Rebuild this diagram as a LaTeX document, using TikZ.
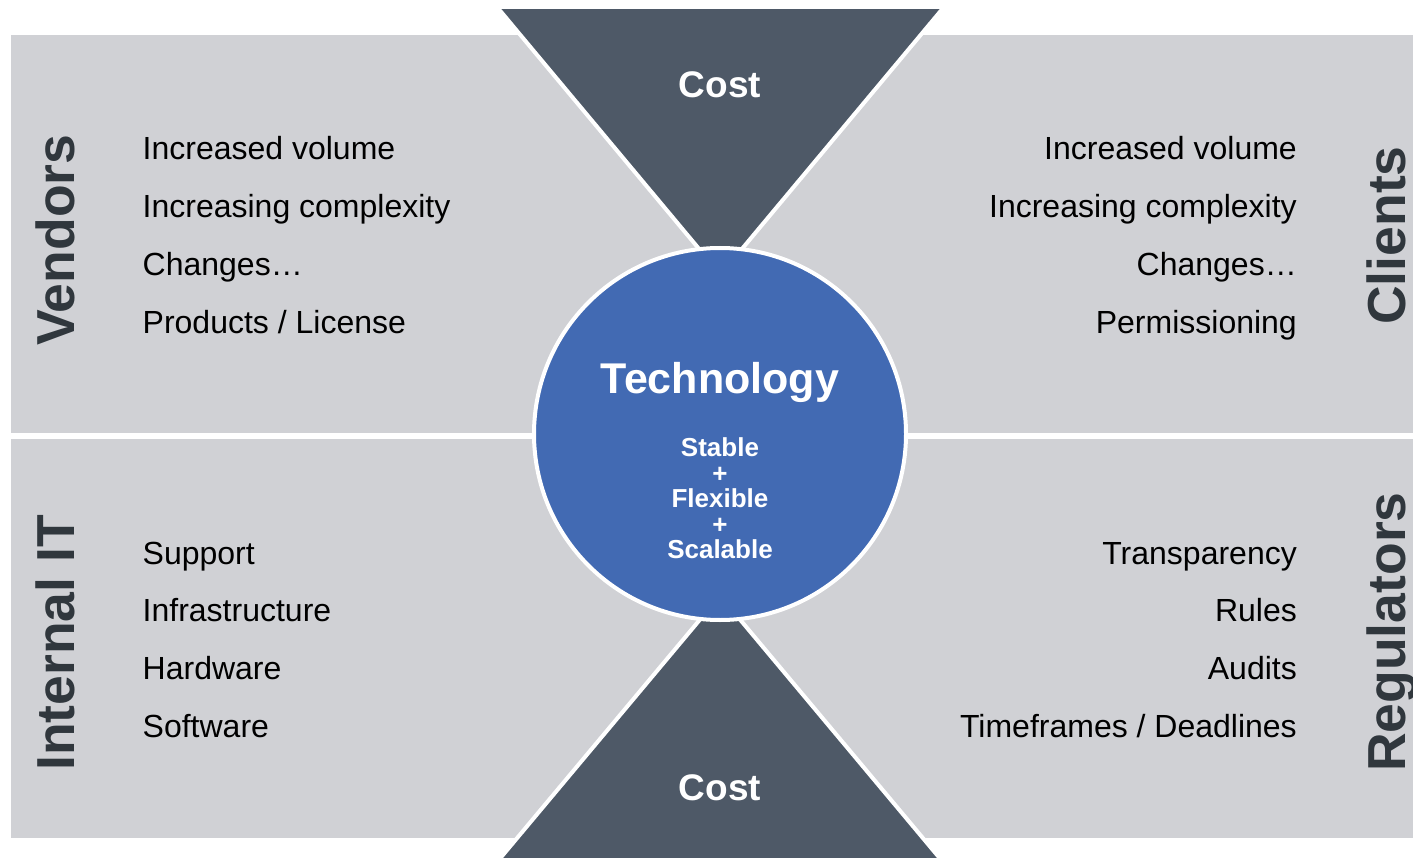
\documentclass[tikz,border=0pt]{standalone}
\usepackage{fontspec}
\setmainfont{Liberation Sans}
\definecolor{quadgray}{RGB}{208,209,213}
\definecolor{costdark}{RGB}{78,89,103}
\definecolor{techblue}{RGB}{66,106,179}
\definecolor{labeldark}{RGB}{48,55,61}
\begin{document}
\begin{tikzpicture}[x=1pt,y=-1pt,
  quad/.style={fill=quadgray,draw=none},
  costtri/.style={fill=costdark,draw=white,line width=4pt,line join=miter},
  item/.style={font=\fontsize{32}{36}\selectfont,inner sep=0pt,text=black},
  itemL/.style={item,anchor=base west},
  itemR/.style={item,anchor=base east},
  sidelabel/.style={font=\bfseries\fontsize{53.5}{60}\selectfont,inner sep=0pt,text=labeldark,rotate=90,anchor=base west},
  costlabel/.style={font=\bfseries\fontsize{37}{40}\selectfont,inner sep=0pt,text=white,anchor=base},
]
\useasboundingbox (0,0) rectangle (1413,858);
\fill[white] (0,0) rectangle (1413,858);
% quadrants
\path[quad] (11,35) rectangle (1413,433);
\path[quad] (11,439) rectangle (1413,838);
% cost triangles
\coordinate (tA) at (497,7);
\coordinate (tB) at (944,7);
\coordinate (tC) at (720.5,274.6);
\draw[costtri] (tA) -- (tB) -- (tC) -- cycle;
\coordinate (bA) at (495.4,864);
\coordinate (bB) at (944.6,864);
\coordinate (bC) at (720,595.6);
\draw[costtri] (bA) -- (bB) -- (bC) -- cycle;
% technology circle
\node[circle,minimum size=372pt,inner sep=0pt,fill=techblue,draw=white,line width=4pt] (tech) at (720,434) {};
\node[font=\bfseries\fontsize{43}{46}\selectfont,text=white,inner sep=0pt,anchor=base] (techt) at (720,393) {Technology};
\node[font=\bfseries\fontsize{26}{25.4}\selectfont,text=white,inner sep=0pt,align=center,anchor=center] (techs) at (720,498.5) {Stable\\+\\Flexible\\+\\Scalable};
% cost labels
\node[costlabel] (costtop) at (720,98) {Cost};
\node[costlabel] (costbot) at (720,800) {Cost};
% side labels
\node[sidelabel] (vendors) at (74,346) {Vendors};
\node[sidelabel] (internal) at (74,771) {Internal IT};
\node[sidelabel] (clients) at (1405,325) {Clients};
\node[sidelabel] (regulators) at (1405,772) {Regulators};
% vendor items
\node[itemL] (v1) at (142.5,160) {Increased volume};
\node[itemL] (v2) at (142.5,217.7) {Increasing complexity};
\node[itemL] (v3) at (142.5,275.4) {Changes…};
\node[itemL] (v4) at (142.5,333.1) {Products / License};
% client items
\node[itemR] (c1) at (1297,160) {Increased volume};
\node[itemR] (c2) at (1297,217.7) {Increasing complexity};
\node[itemR] (c3) at (1297,275.4) {Changes…};
\node[itemR] (c4) at (1297,333.1) {Permissioning};
% internal IT items
\node[itemL] (i1) at (142.5,564) {Support};
\node[itemL] (i2) at (142.5,621.7) {Infrastructure};
\node[itemL] (i3) at (142.5,679.4) {Hardware};
\node[itemL] (i4) at (142.5,737.1) {Software};
% regulator items
\node[itemR] (r1) at (1297,564) {Transparency};
\node[itemR] (r2) at (1297,621.7) {Rules};
\node[itemR] (r3) at (1297,679.4) {Audits};
\node[itemR] (r4) at (1297,737.1) {Timeframes / Deadlines};
\end{tikzpicture}
\end{document}
